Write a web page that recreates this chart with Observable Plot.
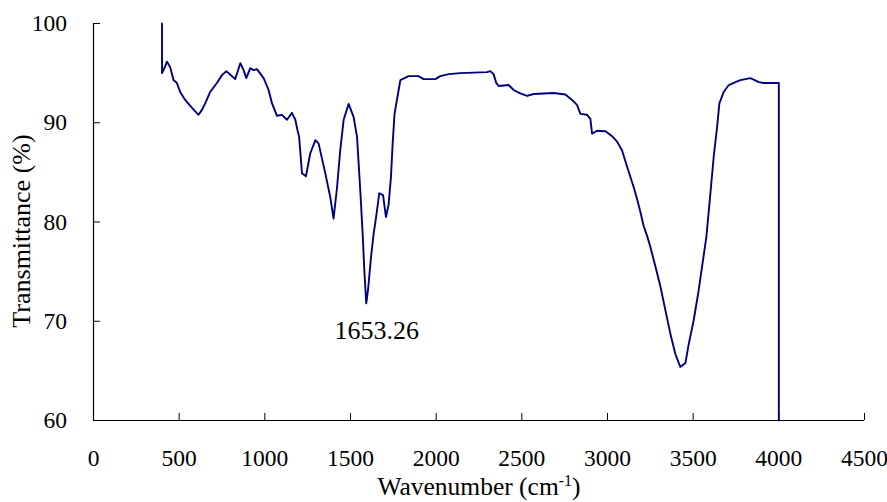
<!DOCTYPE html>
<html><head><meta charset="utf-8">
<script src="https://cdn.jsdelivr.net/npm/d3@7"></script>
<script src="https://cdn.jsdelivr.net/npm/@observablehq/plot@0.6"></script>
<style>body{margin:0;background:#fff}</style>
</head><body><div id="chart"></div>
<script>
const wavenumber = [400,400,409,429,448,467,487,506,535,575,613,633,652,681,720,750,775,827,857,876,892,915,934,954,993,1022,1042,1071,1100,1129,1158,1178,1190,1200,1217,1240,1265,1295,1314,1353,1382,1401,1421,1440,1460,1489,1518,1538,1557,1571,1581,1592,1602,1620,1635,1651,1668,1690,1707,1722,1736,1746,1757,1781,1791,1839,1896,1927,1995,2024,2073,2141,2297,2316,2335,2351,2365,2423,2452,2491,2531,2569,2686,2754,2793,2822,2842,2881,2900,2910,2939,2988,3027,3056,3085,3114,3153,3173,3192,3211,3231,3250,3280,3309,3338,3367,3396,3425,3455,3474,3503,3532,3552,3577,3597,3620,3640,3653,3678,3708,3747,3776,3834,3883,3912,4000,4000];
const transmittance = [100,95.0,95.3,96.15,95.6,94.3,94.0,93.1,92.3,91.5,90.8,91.3,91.95,93.1,94.0,94.8,95.2,94.4,96.0,95.3,94.5,95.5,95.3,95.4,94.5,93.3,91.95,90.7,90.8,90.3,91.0,90.3,89.3,88.6,84.9,84.6,86.9,88.25,87.9,84.9,82.5,80.35,83.4,87.2,90.3,91.9,90.6,88.6,83.2,78.8,75.0,71.8,73.1,76.5,78.8,80.7,82.9,82.7,80.5,81.7,84.5,87.9,90.9,93.3,94.3,94.7,94.7,94.4,94.4,94.7,94.9,95.0,95.1,95.2,94.9,94.0,93.7,93.8,93.3,92.96,92.7,92.9,93.0,92.85,92.3,91.8,90.9,90.8,90.4,88.9,89.2,89.15,88.65,88.1,87.2,85.6,83.5,82.3,81.0,79.6,78.6,77.5,75.5,73.5,71.1,68.75,66.7,65.4,65.8,67.7,70.1,73.1,75.5,78.5,82.2,86.6,89.6,91.95,93.1,93.8,94.1,94.3,94.5,94.1,94.0,94.0,60];
const xTicks = [0,500,1000,1500,2000,2500,3000,3500,4000,4500];
const yTicks = [60,70,80,90,100];
const peakLabel = "1653.26";
const peakWavenumber = 1653.26;
const peakMinimum = 71.8;
const xTitleMain = "Wavenumber (cm";
const xTitleSup = "-1";
const xTitleEnd = ")";
const yTitle = "Transmittance (%)";

const font = "Liberation Serif";

// warm up the system font so digits resolve to it
const ctx = document.createElement("canvas").getContext("2d");
["Liberation Serif", "Times New Roman", "Tinos"].forEach(f => {
  ctx.font = `100px "${f}"`;
  ctx.measureText("0123456789 Wavenumber (cm-1) Transmittance (%) 1653.26");
});

const data = wavenumber.map((w, i) => ({w, t: transmittance[i]}));
const xTitle = xTitleMain + xTitleSup + xTitleEnd;

const chart = Plot.plot({
  width: 887, height: 502,
  marginLeft: 93, marginRight: 23, marginTop: 23, marginBottom: 82,
  style: {fontFamily: font, background: "white", color: "black", overflow: "visible"},
  x: {domain: [0, 4500]},
  y: {domain: [60, 100]},
  marks: [
    Plot.axisX({ticks: xTicks, tickSize: -7, tickPadding: 36, fontSize: 23.5, fontFamily: font, fontVariant: "normal", label: null, tickFormat: d3.format("d"), stroke: "black"}),
    Plot.axisY({ticks: yTicks, tickSize: -7, tickPadding: 33.6, fontSize: 23.5, fontFamily: font, fontVariant: "normal", label: null, tickFormat: d3.format("d"), stroke: "black"}),
    Plot.ruleY([60], {stroke: "black", strokeWidth: 1.2}),
    Plot.ruleX([0], {stroke: "black", strokeWidth: 1.2}),
    Plot.line(data, {x: "w", y: "t", stroke: "#000080", strokeWidth: 1.9}),
    Plot.text([peakLabel], {x: peakWavenumber, y: peakMinimum, dy: 27, fontSize: 26, fontFamily: font, fontVariant: "normal", fill: "black"}),
    Plot.text([xTitle], {frameAnchor: "bottom", textAnchor: "middle", lineAnchor: "middle", dy: 66, fontSize: 25.5, fontFamily: font, fill: "black"}),
    Plot.text([yTitle], {frameAnchor: "left", textAnchor: "middle", lineAnchor: "middle", dx: -71.6, dy: 9, rotate: -90, fontSize: 26, fontFamily: font, fill: "black"})
  ]
});

d3.select(chart).selectAll("text").filter(function() { return this.textContent === xTitle; }).each(function() {
  const t = d3.select(this);
  t.text(null);
  t.append("tspan").text(xTitleMain);
  t.append("tspan").attr("font-size", "16px").attr("dy", "-9px").text(xTitleSup);
  t.append("tspan").attr("dy", "9px").text(xTitleEnd);
});

document.getElementById("chart").appendChild(chart);
</script>
</body></html>
